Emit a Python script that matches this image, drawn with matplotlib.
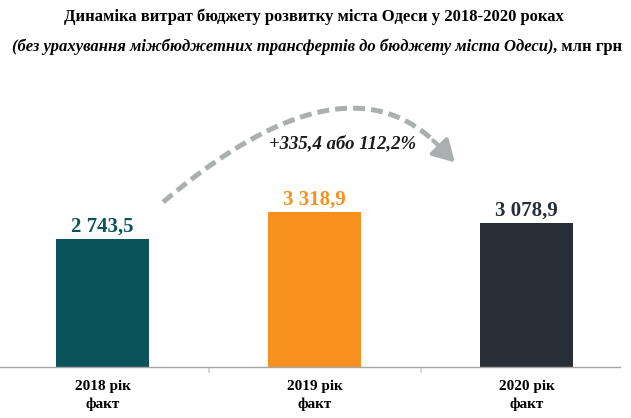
import numpy as np
import matplotlib
matplotlib.use('Agg')
import matplotlib.pyplot as plt

# data
years = ['2018 рік\nфакт', '2019 рік\nфакт', '2020 рік\nфакт']
values = [2743.5, 3318.9, 3078.9]
value_labels = ['2 743,5', '3 318,9', '3 078,9']
bar_colors = ['#0b535b', '#f7901e', '#272e36']
change_label = '+335,4 або 112,2%'

plt.rcParams['font.family'] = ['Liberation Serif', 'DejaVu Serif']

fig = plt.figure(figsize=(6.31, 4.18), dpi=100)
ax = fig.add_axes([0.0, 51 / 418, 620 / 631, 277 / 418])

x = np.arange(len(values))
ax.bar(x, values, width=0.443, color=bar_colors, zorder=2)

ax.set_xlim(-0.4835, 2.441)
ax.set_ylim(0, 5930)

for xi, v, lab, c in zip(x, values, value_labels, bar_colors):
    ax.text(xi, v + 45, lab, ha='center', va='bottom', fontsize=15,
            fontweight='bold', color=c)

# axis styling
for s in ['top', 'right', 'left']:
    ax.spines[s].set_visible(False)
ax.spines['bottom'].set_color('#a6a6a6')
ax.spines['bottom'].set_linewidth(1.0)
ax.set_yticks([])
ax.set_xticks(x)
ax.set_xticklabels(years, fontsize=11, fontweight='bold', linespacing=1.45)
ax.tick_params(axis='x', length=0, pad=9)
ax.set_xticks([0.5, 1.5], minor=True)
ax.tick_params(axis='x', which='minor', length=4, width=1.2, color='#cfcfcf')

# dashed curved arrow from 2018 towards 2020
p0 = np.array([0.286, 3530])
p1 = np.array([1.115, 6720])
p2 = np.array([1.56, 4850])
t = np.linspace(0, 1, 100)[:, None]
curve = (1 - t) ** 2 * p0 + 2 * (1 - t) * t * p1 + t ** 2 * p2
ax.plot(curve[:, 0], curve[:, 1], color='#abafaf', lw=3.6,
        dashes=(2.4, 1.2), dash_capstyle='butt', zorder=1)
ax.annotate('', xy=(1.662, 4380), xytext=(1.56, 4850),
            arrowprops=dict(arrowstyle='-|>,head_length=1.3,head_width=0.75',
                            color='#abafaf', lw=3.0, shrinkA=0, shrinkB=0))
ax.text(1.13, 4790, change_label, ha='center', va='center', fontsize=13.5,
        fontweight='bold', fontstyle='italic', color='#1a1a1a')

# titles
fig.text(0.498, 1 - 17 / 418, 'Динаміка витрат бюджету розвитку міста Одеси у 2018-2020 роках',
         ha='center', va='center', fontsize=12, fontweight='bold')

renderer = fig.canvas.get_renderer()
part1 = '(без урахування міжбюджетних трансфертів до бюджету міста Одеси)'
part2 = ', млн грн'
t1 = fig.text(0, 1 - 47 / 418, part1, ha='left', va='center', fontsize=12,
              fontweight='bold', fontstyle='italic')
t2 = fig.text(0, 1 - 47 / 418, part2, ha='left', va='center', fontsize=12,
              fontweight='bold')
w1 = t1.get_window_extent(renderer).width
w2 = t2.get_window_extent(renderer).width
W = fig.bbox.width
start = (317 - (w1 + w2) / 2) / W
t1.set_x(start)
t2.set_x(start + w1 / W)

fig.savefig('out.png', dpi=100)
